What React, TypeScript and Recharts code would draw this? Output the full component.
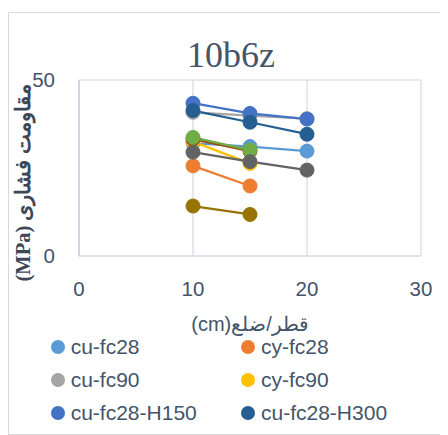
import React from "react";
import { LineChart, Line, XAxis, YAxis, CartesianGrid } from "recharts";

const sizes = [10, 15, 20];
const xTicks = [0, 10, 20, 30];
const yTicks = [0, 50];

const seriesNames = [
  "cu-fc28",
  "cy-fc28",
  "cu-fc90",
  "cy-fc90",
  "cu-fc28-H150",
  "cu-fc28-H300",
  "cy-fc28-H150",
  "cy-fc28-H300",
  "cu-fc90-H150",
  "cy-fc90-H150",
];
const seriesColors = [
  "#5B9BD5",
  "#ED7D31",
  "#A5A5A5",
  "#FFC000",
  "#4472C4",
  "#255E91",
  "#9E480E",
  "#70AD47",
  "#636363",
  "#997300",
];
const cuFc28 = [32.1, 31.1, 29.8];
const cyFc28 = [25.6, 19.9];
const cuFc90 = [40.8, 39.9, 39.0];
const cyFc90 = [32.5, 26.3];
const cuFc28H150 = [43.4, 40.5, 38.9];
const cuFc28H300 = [41.3, 38.0, 34.6];
const cyFc28H150 = [33.2, 29.8];
const cyFc28H300 = [33.7, 30.1];
const cuFc90H150 = [29.5, 26.8, 24.4];
const cyFc90H150 = [14.2, 11.8];
const seriesValues = [
  cuFc28,
  cyFc28,
  cuFc90,
  cyFc90,
  cuFc28H150,
  cuFc28H300,
  cyFc28H150,
  cyFc28H300,
  cuFc90H150,
  cyFc90H150,
];
const legendCount = 6;

const textColor = "#44546A";
const font = "'Liberation Sans', sans-serif";

export default function App() {
  const series = seriesNames.map((name, i) => ({
    name,
    color: seriesColors[i],
    data: seriesValues[i].map((v, j) => ({ x: sizes[j], y: v })),
  }));
  return (
    <div
      style={{
        width: 440,
        height: 423,
        marginTop: 4,
        border: "1px solid #D9D9D9",
        boxSizing: "border-box",
        position: "relative",
        background: "#fff",
        overflow: "hidden",
      }}
    >
      <div
        style={{
          position: "absolute",
          left: 122,
          top: 24,
          width: 200,
          textAlign: "center",
          fontFamily: "'Liberation Serif', serif",
          fontSize: 36,
          lineHeight: "36px",
          color: textColor,
        }}
      >
        10b6z
      </div>
      <LineChart
        width={438}
        height={421}
        margin={{ top: 67, right: 26, left: 0, bottom: 138 }}
      >
        <CartesianGrid stroke="#DDE1E8" strokeWidth={1.5} />
        <XAxis
          type="number"
          dataKey="x"
          domain={[0, 30]}
          ticks={xTicks}
          height={40}
          tickSize={0}
          tickMargin={25}
          axisLine={{ stroke: "#DDE1E8", strokeWidth: 1.5 }}
          tick={{ fill: textColor, fontSize: 20.5, fontFamily: font }}
        />
        <YAxis
          type="number"
          dataKey="y"
          domain={[0, 50]}
          ticks={yTicks}
          width={70}
          tickSize={0}
          tickMargin={24}
          axisLine={{ stroke: "#C9D1DF", strokeWidth: 1.5 }}
          tick={{ fill: textColor, fontSize: 20.5, fontFamily: font }}
        />
        {series.map((s) => (
          <Line
            key={s.name}
            data={s.data}
            dataKey="y"
            name={s.name}
            type="linear"
            stroke={s.color}
            strokeWidth={2.25}
            dot={{ r: 7, fill: s.color, stroke: s.color, strokeWidth: 1 }}
            activeDot={false}
            isAnimationActive={false}
          />
        ))}
      </LineChart>
      <div
        dir="rtl"
        style={{
          position: "absolute",
          left: 14 - 125,
          top: 170 - 15,
          width: 250,
          height: 30,
          lineHeight: "30px",
          textAlign: "center",
          transform: "rotate(-90deg)",
          fontFamily: "'Liberation Serif', serif",
          fontWeight: "bold",
          fontSize: 20.5,
          color: "#3E4757",
          whiteSpace: "nowrap",
        }}
      >
        مقاومت فشاری (MPa)
      </div>
      <div
        dir="rtl"
        style={{
          position: "absolute",
          left: 241 - 100,
          top: 301,
          width: 200,
          height: 20,
          lineHeight: "20px",
          textAlign: "center",
          fontFamily: font,
          fontSize: 20,
          color: textColor,
          whiteSpace: "nowrap",
        }}
      >
        قطر/ضلع(cm)
      </div>
      {series.slice(0, legendCount).map((s, i) => {
        const col = i % 2;
        const row = Math.floor(i / 2);
        const cx = col === 0 ? 48.7 : 239;
        const cy = 334 + row * 33;
        return (
          <div
            key={s.name}
            style={{
              position: "absolute",
              left: cx - 7,
              top: cy - 11,
              height: 22,
              lineHeight: "22px",
              display: "flex",
              alignItems: "center",
              fontFamily: font,
              fontSize: 21,
              color: textColor,
              whiteSpace: "nowrap",
            }}
          >
            <span
              style={{
                display: "inline-block",
                width: 14,
                height: 14,
                borderRadius: 7,
                background: s.color,
                marginRight: 6,
              }}
            />
            <span>{s.name}</span>
          </div>
        );
      })}
    </div>
  );
}
